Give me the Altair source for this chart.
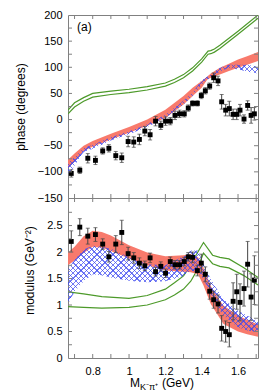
import altair as alt
import pandas as pd

# ---------------- data ----------------
mass = [0.682, 0.729, 0.773, 0.815, 0.855, 0.889, 0.927, 0.960, 0.995, 1.026,
        1.057, 1.087, 1.116, 1.146, 1.175, 1.201, 1.227, 1.253, 1.278, 1.304,
        1.326, 1.350, 1.376, 1.398, 1.420, 1.444, 1.466, 1.490, 1.510, 1.532,
        1.552, 1.573, 1.593, 1.611, 1.633, 1.653, 1.672, 1.690]
phase = [-103, -97, -74, -78, -60, -55, -69, -73, -42, -43,
         -38, -22, -29, -3, -11, -3, -3, 8, 11, 11,
         22, 31, 31, 46, 55, 64, 80, 74, 34, 18,
         21, 10, 10, 18, 1, 27, 8, 11]
phase_err = [7, 6, 9, 8, 6, 7, 8, 9, 10, 10,
             10, 9, 10, 9, 8, 8, 7, 8, 7, 6,
             6, 5, 5, 6, 6, 6, 9, 9, 14, 11,
             14, 10, 10, 11, 8, 9, 15, 12]
modulus = [2.20, 2.47, 2.30, 2.33, 2.15, 1.91, 2.15, 2.37, 1.97, 1.89,
           1.79, 1.74, 1.89, 1.63, 1.73, 1.60, 1.82, 1.76, 1.76, 1.82,
           1.91, 1.90, 1.65, 1.79, 1.58, 1.26, 1.10, 1.02, 0.56, 0.50,
           0.44, 1.07, 1.25, 1.05, 1.31, 1.77, 1.15, 1.47]
modulus_err = [0.20, 0.16, 0.15, 0.13, 0.10, 0.10, 0.16, 0.23, 0.12, 0.10,
               0.10, 0.09, 0.09, 0.08, 0.085, 0.08, 0.085, 0.08, 0.08, 0.08,
               0.08, 0.10, 0.10, 0.17, 0.14, 0.15, 0.16, 0.17, 0.24, 0.20,
               0.23, 0.35, 0.33, 0.35, 0.33, 0.43, 0.44, 0.46]

band_phase_m = [0.664, 0.70, 0.75, 0.80, 0.90, 1.00, 1.10, 1.20, 1.30, 1.35,
                1.40, 1.43, 1.45, 1.50, 1.55, 1.60, 1.65, 1.71]
red_phase_lo = [-93, -80, -60, -52, -38, -25, -12, 3, 29, 45, 61, 76, 80, 86, 93, 99, 105, 112]
red_phase_hi = [-77, -65, -50, -41, -27, -14, 0, 19, 45, 61, 74, 82, 88, 99, 107, 115, 121, 129]
blue_phase_lo = [-107, -88, -62, -56, -40, -28, -14, 3, 29, 45, 67, 76, 80, 92, 99, 96, 92, 88]
blue_phase_hi = [-83, -72, -55, -48, -34, -23, -9, 9, 36, 52, 75, 82, 86, 99, 105, 105, 105, 101]

green_phase_m = [0.664, 0.70, 0.75, 0.80, 0.90, 1.00, 1.10, 1.20, 1.25, 1.30,
                 1.35, 1.40, 1.435, 1.45, 1.47, 1.50, 1.60, 1.71]
green_phase_a = [18, 32, 42, 50, 54.5, 58, 63, 70, 77, 86, 99, 116, 131, 132, 135, 142, 169, 200]
green_phase_b = [11, 24, 35, 43, 48, 51.5, 56.5, 64, 71, 80, 93, 110, 125, 126, 129, 136, 163, 194]

band_mod_m = [0.664, 0.70, 0.75, 0.80, 0.85, 0.90, 1.00, 1.10, 1.20, 1.30,
              1.34, 1.38, 1.41, 1.45, 1.49, 1.52, 1.60, 1.65, 1.71]
red_mod_lo = [1.75, 1.84, 1.98, 2.10, 2.08, 2.02, 1.88, 1.75, 1.65, 1.63,
              1.62, 1.58, 1.37, 1.02, 0.80, 0.64, 0.50, 0.45, 0.40]
red_mod_hi = [1.99, 2.10, 2.30, 2.40, 2.38, 2.31, 2.13, 1.99, 1.92, 1.94,
              1.96, 1.90, 1.70, 1.36, 1.13, 0.99, 0.80, 0.72, 0.63]
blue_mod_lo = [1.02, 1.25, 1.45, 1.58, 1.56, 1.52, 1.46, 1.43, 1.45, 1.55,
               1.65, 1.62, 1.49, 1.21, 0.95, 0.80, 0.58, 0.52, 0.48]
blue_mod_hi = [1.68, 1.85, 2.05, 2.12, 2.10, 2.06, 1.90, 1.77, 1.75, 1.92,
               2.03, 2.03, 1.77, 1.49, 1.27, 1.11, 0.89, 0.80, 0.70]

green_mod_m = [0.664, 0.75, 0.85, 1.00, 1.10, 1.20, 1.25, 1.30, 1.34, 1.37,
               1.41, 1.46, 1.50, 1.55, 1.63, 1.71]
green_mod_a = [1.25, 1.21, 1.16, 1.125, 1.18, 1.30, 1.42, 1.55, 1.75, 1.95,
               2.18, 1.94, 1.90, 1.87, 1.71, 1.52]
green_mod_b = [0.97, 0.955, 0.94, 0.955, 1.0, 1.10, 1.19, 1.30, 1.45, 1.63,
               1.98, 1.78, 1.73, 1.70, 1.56, 1.38]

x_domain = [0.664, 1.71]
x_labels = [0.8, 1.0, 1.2, 1.4, 1.6]
x_ticks = [0.7, 0.8, 0.9, 1.0, 1.1, 1.2, 1.3, 1.4, 1.5, 1.6, 1.7]
phase_domain = [-150, 200]
phase_labels = [-150, -100, -50, 0, 50, 100, 150, 200]
phase_ticks = [-125, -100, -75, -50, -25, 0, 25, 50, 75, 100, 125, 150, 175]
mod_domain = [0, 3.02]
mod_labels = [0, 0.5, 1, 1.5, 2, 2.5]
mod_ticks = [0.25, 0.5, 0.75, 1, 1.25, 1.5, 1.75, 2, 2.25, 2.5, 2.75]

panel_label = ["(a)"]
x_title_parts = ["M", "K⁻π⁺", "(GeV)"]

# ---------------- style ----------------
FONT = "Liberation Sans, Arial, sans-serif"
RED = "#f87a6c"
HATCH = (60, 72, 240)
GREEN = "#4d9a2a"
FRAME = "#808080"
ERR = "#444444"
W, H1, H2 = 190, 183, 160


def hatch(box_w, box_h, period=3.8, line=0.9, reverse=False):
    """Striped linear gradient giving 45-degree lines across a box_w x box_h px box."""
    k = (box_w + box_h) / (box_w ** 2 + box_h ** 2)
    n = int(round((box_w + box_h) / (2 ** 0.5 * period)))
    on = "rgba(%d,%d,%d,0.72)" % HATCH
    off = "rgba(%d,%d,%d,0)" % HATCH
    w = line / period / n
    stops = []
    for i in range(n):
        a = i / n
        stops += [alt.GradientStop(color=on, offset=a),
                  alt.GradientStop(color=on, offset=a + w),
                  alt.GradientStop(color=off, offset=a + w),
                  alt.GradientStop(color=off, offset=(i + 1) / n)]
    dx, dy = k * box_w, k * box_h
    if reverse:
        return alt.LinearGradient(gradient="linear", stops=stops, x1=0, y1=1, x2=dx, y2=1 - dy)
    return alt.LinearGradient(gradient="linear", stops=stops, x1=0, y1=0, x2=dx, y2=dy)


def xenc(field, show):
    axis = alt.Axis(values=x_labels, format="~g", labelPadding=7) if show else None
    return alt.X(f"{field}:Q", scale=alt.Scale(domain=x_domain, nice=False, zero=False),
                 axis=axis, title=None)


def panel(domain, labels, fmt, ticks, title, title_y, H, m_pts, v_pts, e_pts,
          band_m, rlo, rhi, blo, bhi, gm, ga, gb, show_x):
    ysc = alt.Scale(domain=domain, nice=False, zero=False)
    yaxis = alt.Axis(values=labels, format=fmt, labelPadding=6, titlePadding=10,
                     titleY=title_y)

    def yenc(field):
        return alt.Y(f"{field}:Q", scale=ysc, axis=yaxis, title=title)

    red = pd.DataFrame({"m": band_m, "lo": rlo, "hi": rhi})
    blue = pd.DataFrame({"m": band_m, "lo": blo, "hi": bhi})
    green = pd.concat([
        pd.DataFrame({"m": gm, "v": ga, "s": "a"}),
        pd.DataFrame({"m": gm, "v": gb, "s": "b"}),
    ])
    pts = pd.DataFrame({"m": m_pts, "v": v_pts,
                        "lo": [v - e for v, e in zip(v_pts, e_pts)],
                        "hi": [v + e for v, e in zip(v_pts, e_pts)]})
    xt = pd.DataFrame({"m": x_ticks})
    yt = pd.DataFrame({"v": ticks})

    # blue band bounding box in pixels (for the hatch)
    bw = W
    bh = (max(bhi) - min(blo)) / (domain[1] - domain[0]) * H

    layers = [
        alt.Chart(green).mark_line(color=GREEN, strokeWidth=1.2, clip=True).encode(
            x=xenc("m", show_x), y=yenc("v"), detail="s:N"),
        alt.Chart(red).mark_area(color=RED, opacity=1, clip=True).encode(
            x=xenc("m", show_x), y=yenc("lo"), y2="hi:Q"),
        alt.Chart(blue).mark_area(fill=hatch(bw, bh), clip=True).encode(
            x=xenc("m", show_x), y=yenc("lo"), y2="hi:Q"),
        alt.Chart(blue).mark_area(fill=hatch(bw, bh, reverse=True), clip=True).encode(
            x=xenc("m", show_x), y=yenc("lo"), y2="hi:Q"),
        alt.Chart(pts).mark_rule(color=ERR, strokeWidth=1).encode(
            x=xenc("m", show_x), y=yenc("lo"), y2="hi:Q"),
        alt.Chart(pts).mark_tick(color=ERR, orient="horizontal", size=4, thickness=1).encode(
            x=xenc("m", show_x), y=yenc("lo")),
        alt.Chart(pts).mark_tick(color=ERR, orient="horizontal", size=4, thickness=1).encode(
            x=xenc("m", show_x), y=yenc("hi")),
        alt.Chart(pts).mark_square(color="black", size=24, opacity=1).encode(
            x=xenc("m", show_x), y=yenc("v")),
        # inward ticks
        alt.Chart(xt).mark_rule(color=FRAME).encode(
            x=xenc("m", show_x), y=alt.value(0), y2=alt.value(4)),
        alt.Chart(xt).mark_rule(color=FRAME).encode(
            x=xenc("m", show_x), y=alt.value(H - 4), y2=alt.value(H)),
        alt.Chart(yt).mark_rule(color=FRAME).encode(
            y=yenc("v"), x=alt.value(0), x2=alt.value(4)),
        alt.Chart(yt).mark_rule(color=FRAME).encode(
            y=yenc("v"), x=alt.value(W - 4), x2=alt.value(W)),
    ]
    return layers


top_layers = panel(phase_domain, phase_labels, "d", phase_ticks, "phase (degrees)", H1 / 2,
                   H1, mass, phase, phase_err, band_phase_m, red_phase_lo, red_phase_hi,
                   blue_phase_lo, blue_phase_hi, green_phase_m, green_phase_a,
                   green_phase_b, False)
top_layers.append(
    alt.Chart(pd.DataFrame({"t": panel_label})).mark_text(
        align="left", baseline="alphabetic", fontSize=12, font=FONT, color="black").encode(
        text="t:N", x=alt.value(9), y=alt.value(16)))
top = alt.layer(*top_layers).properties(width=W, height=H1)

bot_layers = panel(mod_domain, mod_labels, "~g", mod_ticks, "modulus (GeV⁻²)", 72, H2,
                   mass, modulus, modulus_err, band_mod_m, red_mod_lo, red_mod_hi,
                   blue_mod_lo, blue_mod_hi, green_mod_m, green_mod_a,
                   green_mod_b, True)
bot_layers += [
    alt.Chart(pd.DataFrame({"t": [x_title_parts[0]]})).mark_text(
        align="left", baseline="alphabetic", fontSize=12, font=FONT, color="black").encode(
        text="t:N", x=alt.value(62), y=alt.value(189)),
    alt.Chart(pd.DataFrame({"t": [x_title_parts[1]]})).mark_text(
        align="left", baseline="alphabetic", fontSize=9, font=FONT, color="black").encode(
        text="t:N", x=alt.value(72), y=alt.value(192)),
    alt.Chart(pd.DataFrame({"t": [x_title_parts[2]]})).mark_text(
        align="left", baseline="alphabetic", fontSize=12, font=FONT, color="black").encode(
        text="t:N", x=alt.value(94), y=alt.value(189)),
]
bot = alt.layer(*bot_layers).properties(width=W, height=H2)

chart = alt.vconcat(top, bot, spacing=0, bounds="flush").properties(
    padding={"left": 5, "top": 0, "right": 5, "bottom": 0}
).configure_view(
    stroke=FRAME, strokeWidth=1
).configure_axis(
    labelFont=FONT, labelFontSize=11, labelColor="black",
    titleFont=FONT, titleFontSize=12, titleFontWeight="normal", titleColor="black",
    ticks=False, domain=False, grid=False
)

chart.save("out.html", embed_options={"renderer": "svg", "actions": False})
